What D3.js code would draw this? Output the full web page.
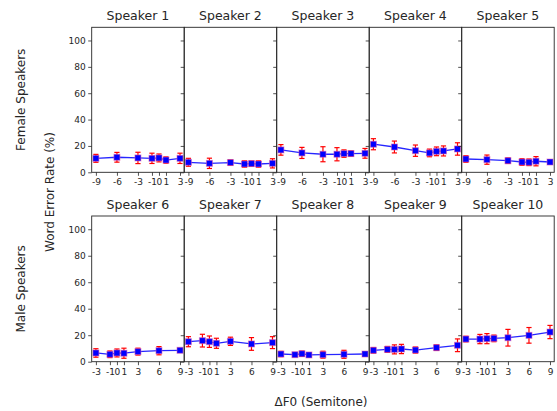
<!DOCTYPE html>
<html>
<head>
<meta charset="utf-8">
<script src="https://cdn.jsdelivr.net/npm/d3@7"></script>
<style>
  body { margin: 0; background: #fff; }
  svg text { font-family: "DejaVu Sans", sans-serif; fill: #262626; }
</style>
</head>
<body>
<div id="chart"></div>
<script>
// shift in semitones, per row
const femaleShifts = [-9, -6, -3, -1, 0, 1, 3];
const maleShifts = [-3, -1, 0, 1, 3, 6, 9];
const yTicks = [0, 20, 40, 60, 80, 100];

const femaleSpeakers = ['Speaker 1', 'Speaker 2', 'Speaker 3', 'Speaker 4', 'Speaker 5'];
const maleSpeakers = ['Speaker 6', 'Speaker 7', 'Speaker 8', 'Speaker 9', 'Speaker 10'];

// word error rate (%) per speaker, one value per shift
const femaleWer = [
    [10.6, 11.4, 10.9, 10.6, 10.9, 9.3, 10.6],
    [7.6, 6.8, 7.4, 6.3, 6.6, 6.3, 6.8],
    [17.0, 14.7, 13.7, 13.7, 14.2, 14.2, 14.4],
    [21.3, 19.2, 16.4, 14.7, 15.9, 16.2, 17.7],
    [10.1, 9.6, 8.8, 7.8, 7.6, 8.4, 7.8]
];
const femaleErr = [
    [3.0, 3.7, 4.3, 3.9, 3.0, 2.4, 3.9],
    [3.0, 3.9, 2.0, 2.4, 2.0, 2.4, 3.5],
    [4.0, 4.2, 5.7, 5.0, 2.8, 2.0, 3.7],
    [4.2, 4.5, 4.3, 2.9, 3.3, 3.8, 4.7],
    [2.5, 3.5, 2.1, 2.5, 2.5, 3.5, 1.5]
];
const maleWer = [
    [6.6, 5.6, 6.6, 6.4, 7.6, 8.3, 8.6],
    [15.1, 15.9, 15.1, 13.9, 15.4, 13.4, 14.4],
    [5.8, 5.3, 6.0, 5.1, 5.3, 5.6, 5.8],
    [8.6, 9.3, 9.3, 9.6, 8.8, 10.6, 12.4],
    [17.1, 17.1, 17.4, 17.6, 18.1, 19.9, 22.4]
];
const maleErr = [
    [3.2, 2.5, 3.0, 3.8, 2.6, 3.1, 1.5],
    [3.8, 4.8, 4.3, 3.8, 3.1, 4.8, 4.5],
    [2.0, 1.5, 2.0, 1.5, 2.6, 3.0, 1.5],
    [2.1, 2.2, 3.4, 3.5, 2.3, 2.1, 4.8],
    [2.1, 3.5, 3.8, 2.5, 6.3, 5.9, 5.0]
];

const width = 557, height = 411;
const left = 91.7, panelW = 92.5;
const rows = [
    { label: 'Female Speakers', top: 27.3, bottom: 172.3, shifts: femaleShifts, names: femaleSpeakers, wer: femaleWer, err: femaleErr },
    { label: 'Male Speakers', top: 216, bottom: 361.7, shifts: maleShifts, names: maleSpeakers, wer: maleWer, err: maleErr }
];

const svg = d3.select('#chart').append('svg')
    .attr('width', width)
    .attr('height', height);

rows.forEach(row => {
    let xMin = d3.min(row.shifts), xMax = d3.max(row.shifts);
    let pad = (xMax - xMin) * 0.05;

    let yScale = d3.scaleLinear()
        .domain([0, 110])
        .range([row.bottom, row.top]);

    row.names.forEach((name, i) => {
        let x0 = left + i * panelW;
        let xScale = d3.scaleLinear()
            .domain([xMin - pad, xMax + pad])
            .range([x0, x0 + panelW]);

        let g = svg.append('g').attr('class', 'panel');

        let points = row.shifts.map((s, j) => ({ x: s, y: row.wer[i][j], e: row.err[i][j] }));

        // y axis on every panel, labels only on the first
        let yAxis = g.append('g')
            .attr('transform', `translate(${x0}, 0)`)
            .call(d3.axisLeft(yScale).tickValues(yTicks).tickSize(3.5).tickPadding(2.5));
        yAxis.select('.domain').remove();
        yAxis.selectAll('line').attr('stroke', '#262626').attr('stroke-width', 0.8);
        if (i > 0) yAxis.selectAll('text').remove();
        else yAxis.selectAll('text').attr('font-size', 9).attr('font-family', 'DejaVu Sans');

        let xAxis = g.append('g')
            .attr('transform', `translate(0, ${row.bottom})`)
            .call(d3.axisBottom(xScale).tickValues(row.shifts).tickFormat(d3.format('d')).tickSize(3.5).tickPadding(3));
        xAxis.select('.domain').remove();
        xAxis.selectAll('line').attr('stroke', '#262626').attr('stroke-width', 0.8);
        xAxis.selectAll('text').attr('font-size', 9).attr('font-family', 'DejaVu Sans')
            .text(d => d < 0 ? '-' + Math.abs(d) : d);

        // error bars
        let bars = g.append('g').attr('stroke', '#ff0000').attr('stroke-width', 1.2);
        bars.selectAll('line.v').data(points).enter().append('line')
            .attr('x1', d => xScale(d.x)).attr('x2', d => xScale(d.x))
            .attr('y1', d => yScale(d.y - d.e)).attr('y2', d => yScale(d.y + d.e));
        bars.selectAll('line.top').data(points).enter().append('line')
            .attr('x1', d => xScale(d.x) - 2.6).attr('x2', d => xScale(d.x) + 2.6)
            .attr('y1', d => yScale(d.y + d.e)).attr('y2', d => yScale(d.y + d.e));
        bars.selectAll('line.bot').data(points).enter().append('line')
            .attr('x1', d => xScale(d.x) - 2.6).attr('x2', d => xScale(d.x) + 2.6)
            .attr('y1', d => yScale(d.y - d.e)).attr('y2', d => yScale(d.y - d.e));

        let line = d3.line().x(d => xScale(d.x)).y(d => yScale(d.y));
        g.append('path').datum(points)
            .attr('d', line)
            .attr('fill', 'none')
            .attr('stroke', '#0000ff')
            .attr('stroke-opacity', 0.85)
            .attr('stroke-width', 1.3);

        g.selectAll('rect.marker').data(points).enter().append('rect')
            .attr('x', d => xScale(d.x) - 3)
            .attr('y', d => yScale(d.y) - 3)
            .attr('width', 6)
            .attr('height', 6)
            .attr('fill', '#0000ff')
            .attr('stroke', 'rgba(230, 90, 170, 0.55)')
            .attr('stroke-width', 1);

        g.append('rect')
            .attr('x', x0).attr('y', row.top)
            .attr('width', panelW).attr('height', row.bottom - row.top)
            .attr('fill', 'none')
            .attr('stroke', '#262626')
            .attr('stroke-width', 0.9);

        g.append('text')
            .attr('x', x0 + panelW / 2)
            .attr('y', row.top - 7)
            .attr('text-anchor', 'middle')
            .attr('font-size', 12.5)
            .text(name);
    });

    svg.append('text')
        .attr('transform', `translate(25, ${(row.top + row.bottom) / 2}) rotate(-90)`)
        .attr('text-anchor', 'middle')
        .attr('font-size', 12)
        .text(row.label);
});

svg.append('text')
    .attr('transform', 'translate(54, 192) rotate(-90)')
    .attr('text-anchor', 'middle')
    .attr('font-size', 12)
    .text('Word Error Rate (%)');

svg.append('text')
    .attr('x', 321)
    .attr('y', 406)
    .attr('text-anchor', 'middle')
    .attr('font-size', 12)
    .text('ΔF0 (Semitone)');
</script>
</body>
</html>
